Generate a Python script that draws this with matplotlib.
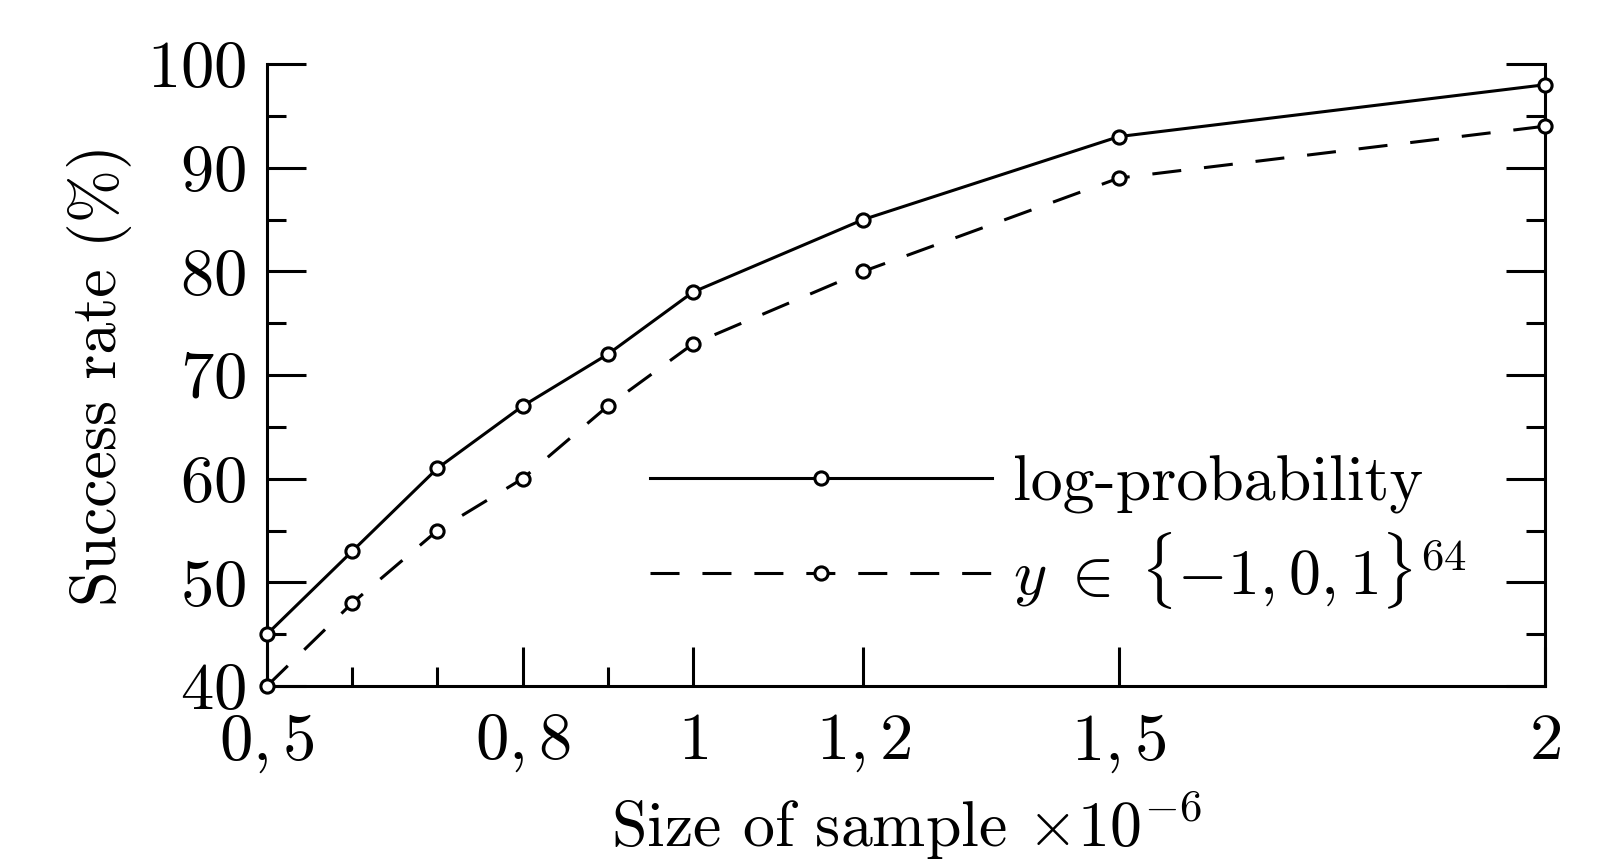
import matplotlib
matplotlib.use('Agg')
import matplotlib.pyplot as plt

# data
sample_size = [0.5, 0.6, 0.7, 0.8, 0.9, 1.0, 1.2, 1.5, 2.0]
log_prob = [45, 53, 61, 67, 72, 78, 85, 93, 98]
ternary = [40, 48, 55, 60, 67, 73, 80, 89, 94]

major_x = [0.5, 0.8, 1.0, 1.2, 1.5, 2.0]
major_x_labels = [r'$0,5$', r'$0,8$', r'$1$', r'$1,2$', r'$1,5$', r'$2$']
minor_x = [0.6, 0.7, 0.9]

plt.rcParams['font.family'] = ['cmr10']
plt.rcParams['mathtext.fontset'] = 'cm'
plt.rcParams['axes.formatter.use_mathtext'] = True
plt.rcParams['font.size'] = 48

fig = plt.figure(figsize=(16.24, 8.64), dpi=100)
ax = fig.add_axes([267 / 1624, 1 - 686 / 864, (1545 - 267) / 1624, (686 - 64) / 864])

lw = 2.2
ax.plot(sample_size, log_prob, color='black', lw=lw, marker='o', ms=9.5,
        mfc='white', mew=2.2, clip_on=False, zorder=3, label='log-probability')
ax.plot(sample_size, ternary, color='black', lw=lw, marker='o', ms=9.5,
        mfc='white', mew=2.2, clip_on=False, zorder=3, dashes=(9.5, 7.5),
        label=r'$y\;\in\;\{-1, 0, 1\}^{64}$')

ax.set_xlim(0.5, 2.0)
ax.set_ylim(40, 100)

ax.set_xticks(major_x)
ax.set_xticklabels(major_x_labels)
ax.set_xticks(minor_x, minor=True)
ax.set_yticks(range(40, 101, 10))
ax.set_yticklabels([f'${v}$' for v in range(40, 101, 10)])
ax.set_yticks(range(45, 100, 10), minor=True)

ax.spines['top'].set_visible(False)
for s in ['left', 'right', 'bottom']:
    ax.spines[s].set_linewidth(lw)

ax.tick_params(axis='both', which='both', direction='in', width=lw)
ax.tick_params(axis='y', which='both', left=True, right=True)
ax.tick_params(axis='both', which='major', length=28)
ax.tick_params(axis='both', which='minor', length=14)
ax.tick_params(axis='x', which='major', pad=19)
ax.tick_params(axis='y', which='major', pad=15)

ax.set_xlabel(r'Size of sample $\times 10^{-6}$', fontsize=46, labelpad=11)
ax.set_ylabel('Success rate (%)', fontsize=46, labelpad=11)

ax.legend(loc='upper left', bbox_to_anchor=(0.30, 0.37), frameon=False,
          fontsize=46, numpoints=1, handlelength=5.35, handletextpad=0.33,
          labelspacing=0.25, borderaxespad=0, borderpad=0)

fig.savefig('out.png', dpi=100)
